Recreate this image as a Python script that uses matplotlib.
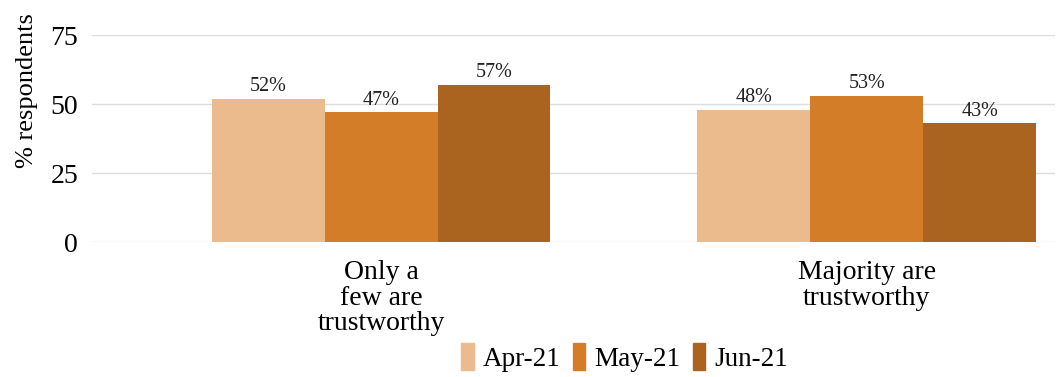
import numpy as np
import matplotlib.pyplot as plt
from matplotlib.patches import Patch

categories = ["Only a\nfew are\ntrustworthy", "Majority are\ntrustworthy"]
months = ["Apr-21", "May-21", "Jun-21"]
values = {
    "Apr-21": [52, 48],
    "May-21": [47, 53],
    "Jun-21": [57, 43],
}
colors = ["#EBBB8D", "#D37D29", "#AA6420"]

plt.rcParams['font.family'] = ['Liberation Serif', 'DejaVu Serif']

fig = plt.figure(figsize=(10.59, 3.77), dpi=100)
ax = fig.add_axes([0.087, 0.358, 0.909, 0.549])

x = np.arange(len(categories))
width = 0.2325
for i, m in enumerate(months):
    pos = x + (i - 1) * width
    bars = ax.bar(pos, values[m], width, color=colors[i], zorder=2)
    for b, v in zip(bars, values[m]):
        ax.text(b.get_x() + b.get_width() / 2, v + 1.0, f"{v}%",
                ha='center', va='bottom', fontsize=14.5, color='#222222')

ax.set_xlim(-0.595, 1.387)
ax.set_ylim(0, 75)
ax.set_yticks([0, 25, 50, 75])
ax.set_xticks(x)
ax.set_xticklabels(categories, fontsize=20, linespacing=1.03)
ax.tick_params(axis='y', labelsize=20, length=0, pad=10)
ax.tick_params(axis='x', length=0, pad=13)
ax.yaxis.grid(True, color='#DDDDDD', linewidth=1, zorder=0)
ax.set_axisbelow(True)
for s in ax.spines.values():
    s.set_visible(False)
ax.set_ylabel("% respondents", fontsize=19)
ax.yaxis.set_label_coords(-0.056, 0.73)

handles = [Patch(color=c, label=m) for c, m in zip(colors, months)]
fig.legend(handles=handles, loc='center', bbox_to_anchor=(0.59, 0.053),
           ncol=3, frameon=False, fontsize=19.5, handlelength=0.45,
           handleheight=1.2, handletextpad=0.35, columnspacing=0.45)

fig.savefig("out.png", dpi=100)
